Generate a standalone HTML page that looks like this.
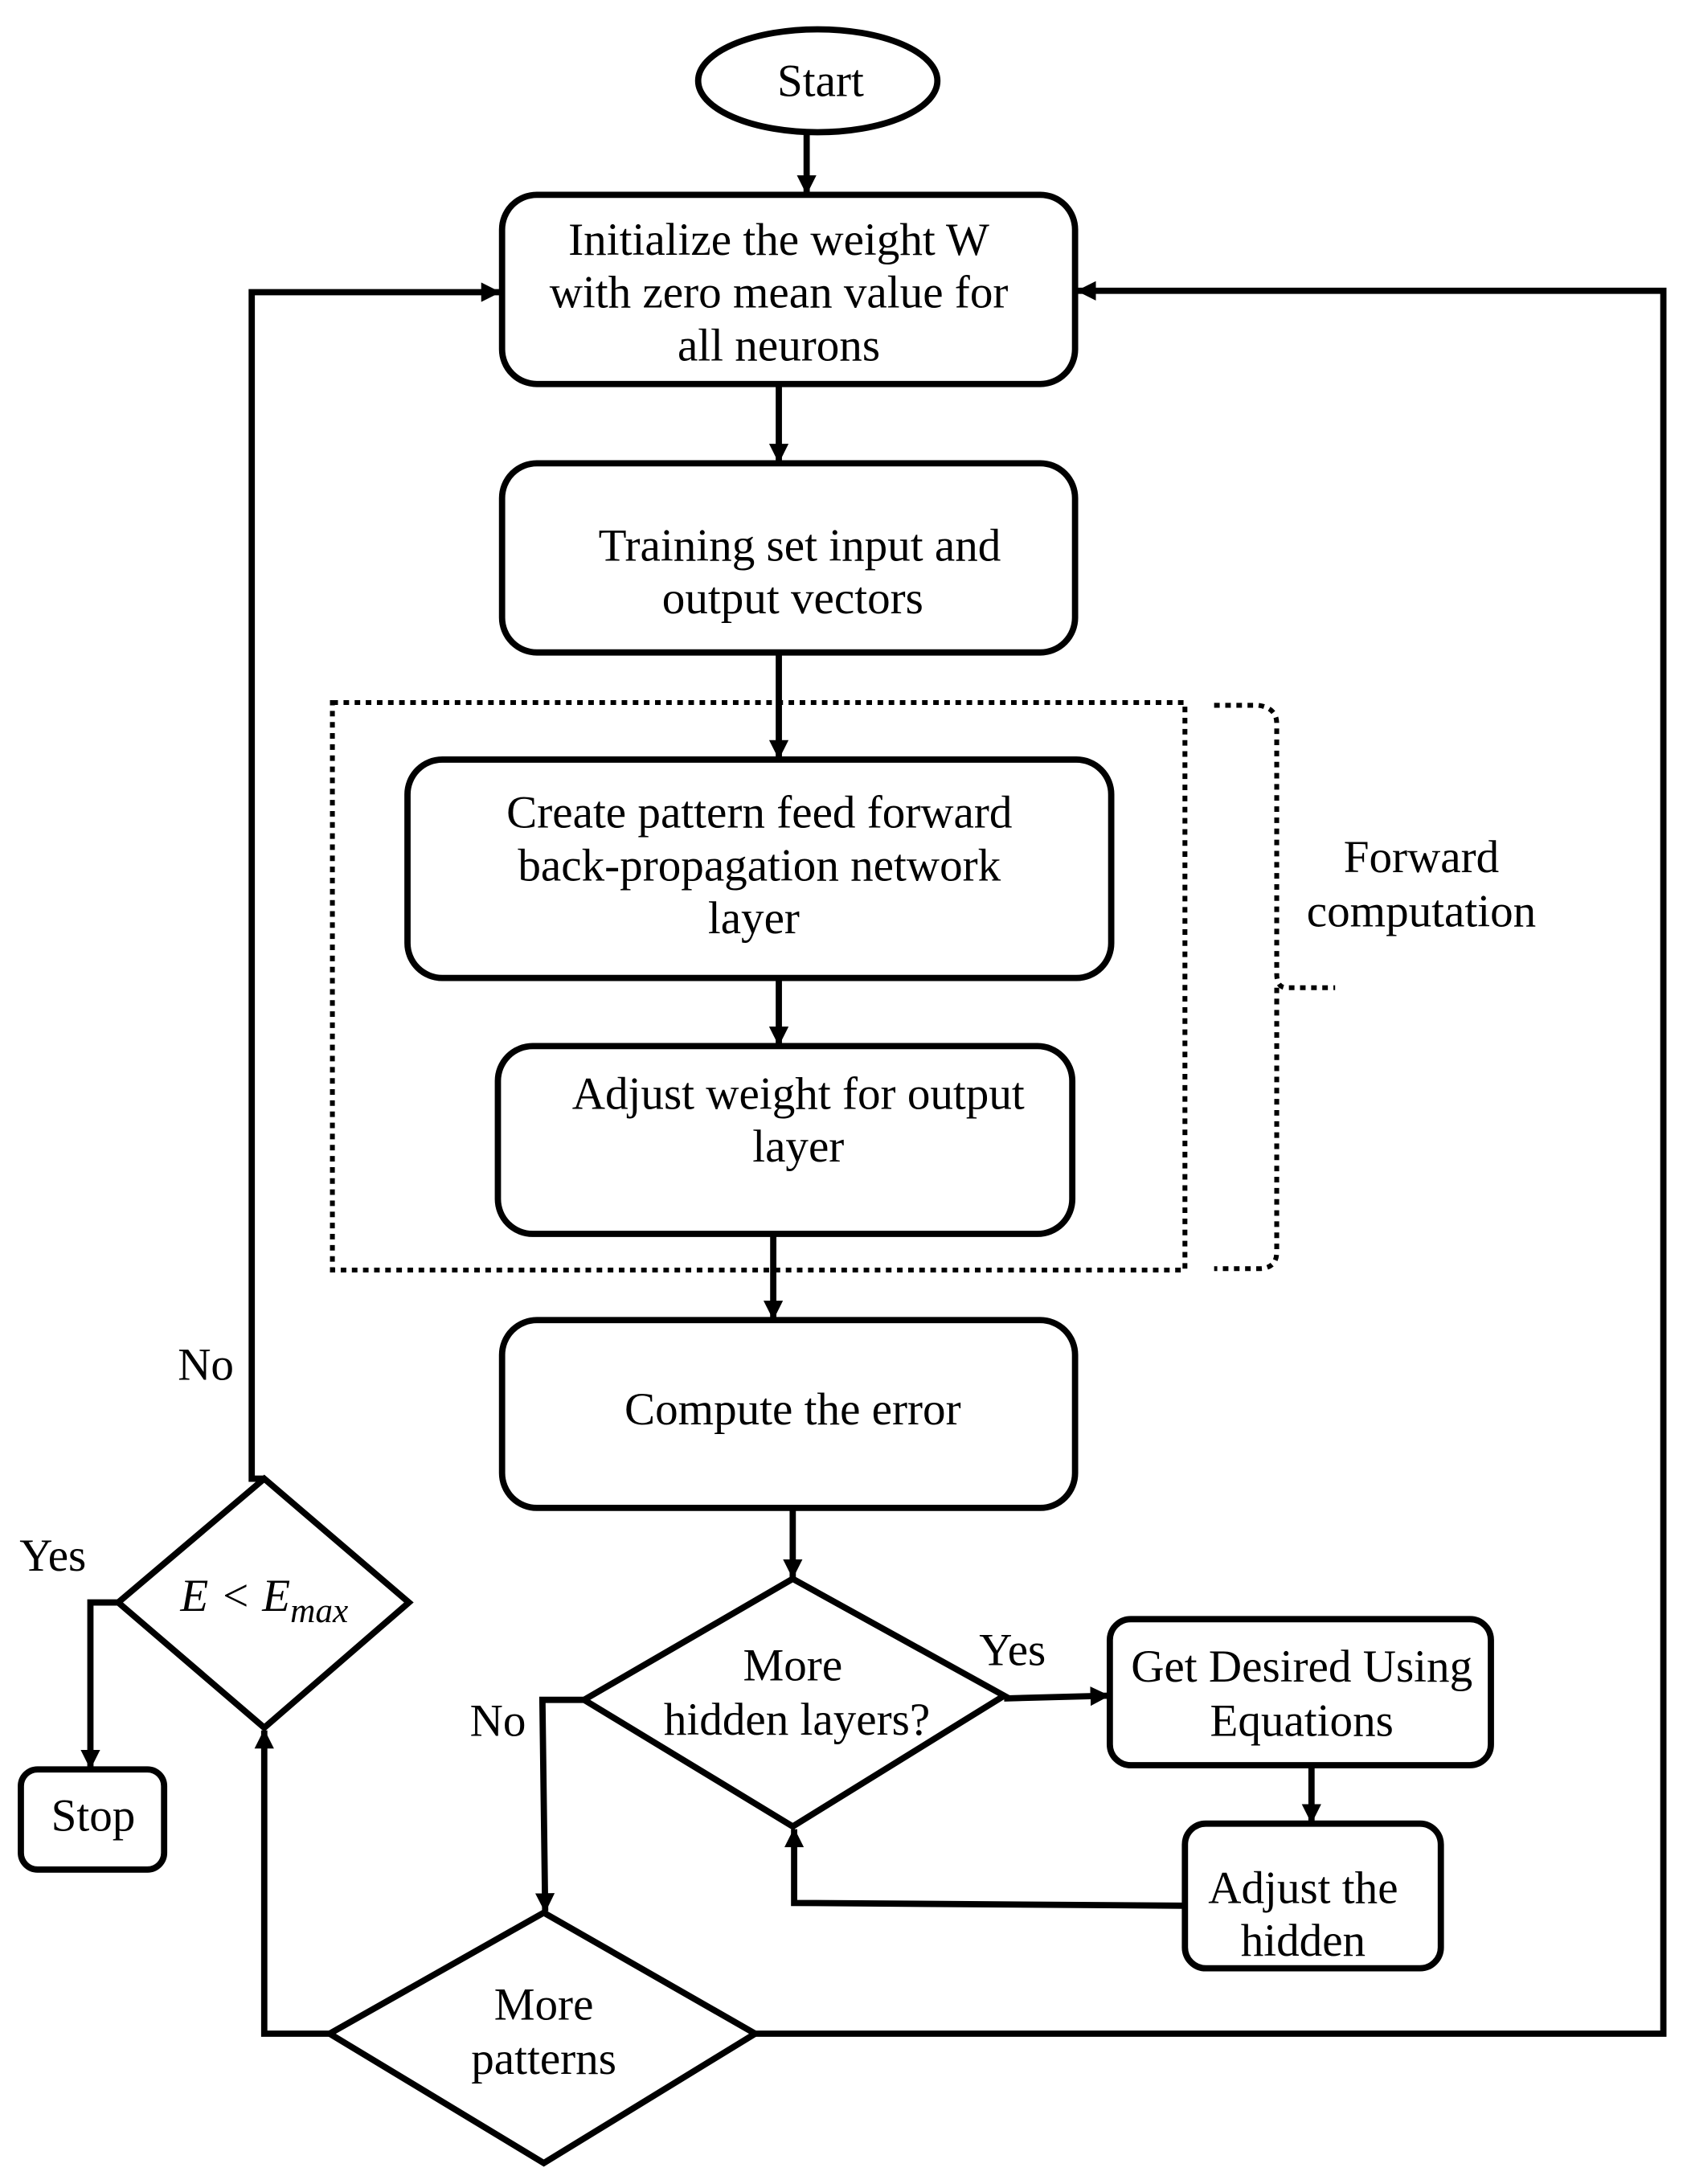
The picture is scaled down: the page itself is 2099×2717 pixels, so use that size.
<!DOCTYPE html>
<html><head><meta charset="utf-8"><style>
html,body{margin:0;padding:0;background:#fff;}
svg{display:block;}
text{font-family:"Liberation Serif",serif;font-size:33px;fill:#000;text-anchor:middle;}
</style></head><body>
<svg width="2099" height="2717" viewBox="0 0 1213 1570" xmlns="http://www.w3.org/2000/svg">
<defs>
<marker id="a" markerWidth="14" markerHeight="14" refX="13" refY="7" orient="auto" markerUnits="userSpaceOnUse">
<path d="M0,0 L14,7 L0,14 Z" fill="#000"/>
</marker>
</defs>
<g fill="none" stroke="#000" stroke-width="4.5">
<ellipse cx="588" cy="58" rx="86" ry="37"/>
<rect x="361" y="140" width="412" height="136" rx="25"/>
<rect x="361" y="333" width="412" height="136" rx="25"/>
<rect x="293" y="546" width="506" height="157" rx="25"/>
<rect x="358" y="752" width="413" height="135" rx="25"/>
<rect x="361" y="949" width="412" height="135" rx="25"/>
<rect x="798" y="1164" width="274" height="105" rx="15"/>
<rect x="852" y="1311" width="184" height="104" rx="15"/>
<rect x="15" y="1272" width="103" height="72" rx="12"/>
<polygon points="570,1135 722,1219 570,1313 420,1222"/>
<polygon points="391,1375 543,1462 391,1555 237,1462"/>
<polygon points="190,1063 294,1152 190,1242 85,1152"/>

<line x1="580" y1="95" x2="580" y2="139" marker-end="url(#a)"/>
<line x1="560" y1="276" x2="560" y2="332" marker-end="url(#a)"/>
<line x1="560" y1="469" x2="560" y2="545" marker-end="url(#a)"/>
<line x1="560" y1="703" x2="560" y2="751" marker-end="url(#a)"/>
<line x1="556" y1="887" x2="556" y2="948" marker-end="url(#a)"/>
<line x1="570" y1="1084" x2="570" y2="1134" marker-end="url(#a)"/>
<polyline points="722,1221 797,1219" marker-end="url(#a)"/>
<line x1="943" y1="1269" x2="943" y2="1310" marker-end="url(#a)"/>
<polyline points="852,1370 571,1368 571,1315" marker-end="url(#a)"/>
<polyline points="420,1222 390,1222 392,1374" marker-end="url(#a)"/>
<polyline points="237,1462 190,1462 190,1244" marker-end="url(#a)"/>
<polyline points="543,1462 1196,1462 1196,209 775,209" marker-end="url(#a)"/>
<polyline points="190,1063 181,1063 181,210 359,210" marker-end="url(#a)"/>
<polyline points="85,1152 65,1152 65,1271" marker-end="url(#a)"/>
</g>
<g fill="none" stroke="#000" stroke-width="3.5" stroke-dasharray="4,4">
<rect x="239" y="505" width="613" height="408"/>
<path d="M873,507 L905,507 Q918,509 918,520 L918,700 Q918,710 925,710 L960,710 M918,710 Q918,712 918,720 L918,900 Q918,912 905,912 L873,912"/>
</g>
<text x="560" y="183">Initialize the weight W</text>
<text x="590" y="69">Start</text>
<text x="560" y="221">with zero mean value for</text>
<text x="560" y="259">all neurons</text>
<text x="575" y="403">Training set input and</text>
<text x="570" y="441">output vectors</text>
<text x="546" y="595">Create pattern feed forward</text>
<text x="546" y="633">back-propagation network</text>
<text x="542" y="671">layer</text>
<text x="574" y="797">Adjust weight for output</text>
<text x="574" y="835">layer</text>
<text x="570" y="1024">Compute the error</text>
<text x="570" y="1208">More</text>
<text x="573" y="1247">hidden layers?</text>
<text x="728" y="1197">Yes</text>
<text x="936" y="1209">Get Desired Using</text>
<text x="936" y="1248">Equations</text>
<text x="937" y="1368">Adjust the</text>
<text x="937" y="1406">hidden</text>
<text x="358" y="1248">No</text>
<text x="391" y="1452">More</text>
<text x="391" y="1491">patterns</text>
<text x="190" y="1158" style="font-style:italic">E &lt; E<tspan font-size="25" dy="8">max</tspan></text>
<text x="148" y="992">No</text>
<text x="38" y="1129">Yes</text>
<text x="67" y="1316">Stop</text>
<text x="1022" y="627">Forward</text>
<text x="1022" y="666">computation</text>
</svg>
</body></html>
